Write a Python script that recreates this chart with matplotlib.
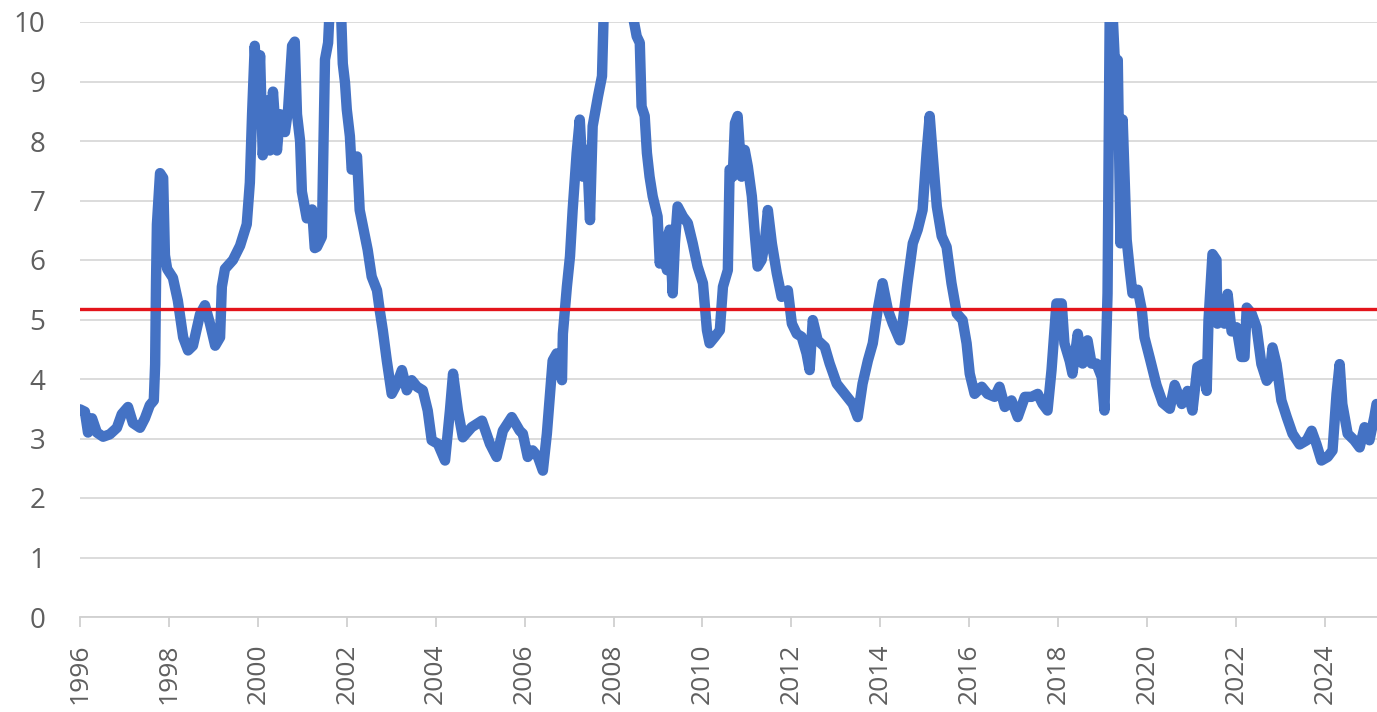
import matplotlib
matplotlib.use("Agg")
import matplotlib.pyplot as plt

plt.rcParams['font.family'] = ['Open Sans', 'DejaVu Sans']

# series, read as (decimal year, value)
years = [
    1996.00, 1996.11, 1996.18, 1996.27, 1996.38, 1996.52, 1996.67, 1996.83, 1996.94, 1997.08,
    1997.19, 1997.35, 1997.46, 1997.57, 1997.66, 1997.69, 1997.71, 1997.73, 1997.80, 1997.87,
    1997.91, 1997.96, 1998.09, 1998.20, 1998.32, 1998.43, 1998.54, 1998.70, 1998.81, 1998.92,
    1999.04, 1999.15, 1999.19, 1999.26, 1999.44, 1999.60, 1999.75, 1999.82, 1999.87, 1999.93,
    2000.00, 2000.05, 2000.11, 2000.20, 2000.27, 2000.34, 2000.43, 2000.50, 2000.61, 2000.68,
    2000.77, 2000.83, 2000.88, 2000.95, 2000.99, 2001.10, 2001.22, 2001.28, 2001.33, 2001.44,
    2001.46, 2001.51, 2001.58, 2001.62, 2001.76, 2001.87, 2001.91, 2001.96, 2002.00, 2002.07,
    2002.11, 2002.23, 2002.29, 2002.41, 2002.47, 2002.56, 2002.68, 2002.74, 2002.81, 2002.90,
    2003.01, 2003.13, 2003.24, 2003.35, 2003.46, 2003.58, 2003.71, 2003.82, 2003.91, 2004.05,
    2004.21, 2004.32, 2004.39, 2004.50, 2004.61, 2004.81, 2005.04, 2005.22, 2005.37, 2005.51,
    2005.71, 2005.89, 2005.96, 2006.07, 2006.18, 2006.30, 2006.41, 2006.50, 2006.57, 2006.63,
    2006.72, 2006.84, 2006.86, 2006.95, 2007.02, 2007.08, 2007.17, 2007.24, 2007.31, 2007.40,
    2007.47, 2007.53, 2007.65, 2007.74, 2007.78, 2007.92, 2008.10, 2008.28, 2008.41, 2008.52,
    2008.59, 2008.63, 2008.70, 2008.75, 2008.81, 2008.88, 2008.99, 2009.04, 2009.11, 2009.20,
    2009.26, 2009.33, 2009.38, 2009.44, 2009.56, 2009.67, 2009.78, 2009.89, 2010.01, 2010.10,
    2010.16, 2010.28, 2010.39, 2010.46, 2010.57, 2010.61, 2010.68, 2010.73, 2010.79, 2010.88,
    2010.95, 2011.02, 2011.11, 2011.18, 2011.24, 2011.33, 2011.40, 2011.47, 2011.56, 2011.67,
    2011.78, 2011.92, 2012.01, 2012.12, 2012.23, 2012.34, 2012.41, 2012.48, 2012.59, 2012.75,
    2012.86, 2013.02, 2013.20, 2013.38, 2013.49, 2013.60, 2013.72, 2013.83, 2013.94, 2014.05,
    2014.17, 2014.28, 2014.44, 2014.50, 2014.61, 2014.73, 2014.84, 2014.95, 2015.04, 2015.11,
    2015.18, 2015.27, 2015.38, 2015.49, 2015.60, 2015.72, 2015.85, 2015.94, 2016.01, 2016.12,
    2016.28, 2016.41, 2016.57, 2016.68, 2016.80, 2016.95, 2017.09, 2017.25, 2017.40, 2017.54,
    2017.65, 2017.76, 2017.85, 2017.96, 2018.08, 2018.14, 2018.26, 2018.32, 2018.44, 2018.55,
    2018.66, 2018.75, 2018.86, 2018.98, 2019.04, 2019.11, 2019.16, 2019.22, 2019.27, 2019.34,
    2019.40, 2019.45, 2019.54, 2019.61, 2019.67, 2019.79, 2019.88, 2019.94, 2020.06, 2020.21,
    2020.35, 2020.51, 2020.62, 2020.78, 2020.91, 2021.02, 2021.13, 2021.25, 2021.34, 2021.38,
    2021.47, 2021.56, 2021.58, 2021.65, 2021.74, 2021.81, 2021.90, 2022.01, 2022.12, 2022.19,
    2022.24, 2022.35, 2022.46, 2022.57, 2022.69, 2022.75, 2022.82, 2022.91, 2023.02, 2023.14,
    2023.27, 2023.43, 2023.59, 2023.70, 2023.81, 2023.92, 2024.06, 2024.17, 2024.26, 2024.33,
    2024.39, 2024.51, 2024.66, 2024.78, 2024.89, 2025.00, 2025.11, 2025.16,
]
values = [
    3.49, 3.45, 3.10, 3.34, 3.10, 3.03, 3.07, 3.18, 3.41, 3.53,
    3.26, 3.18, 3.34, 3.56, 3.64, 4.25, 5.63, 6.60, 7.46, 7.38,
    6.08, 5.85, 5.70, 5.32, 4.70, 4.48, 4.56, 5.09, 5.24, 4.94,
    4.56, 4.70, 5.55, 5.85, 6.00, 6.24, 6.60, 7.30, 8.45, 9.60,
    8.60, 9.44, 7.76, 8.68, 7.84, 8.83, 7.84, 8.45, 8.15, 8.53,
    9.60, 9.67, 8.45, 8.00, 7.15, 6.70, 6.85, 6.20, 6.22, 6.39,
    7.29, 9.37, 9.65, 10.30, 10.40, 10.20, 9.30, 8.98, 8.53, 8.08,
    7.52, 7.74, 6.84, 6.39, 6.17, 5.72, 5.49, 5.16, 4.82, 4.31,
    3.75, 3.92, 4.15, 3.81, 3.98, 3.87, 3.81, 3.47, 2.97, 2.91,
    2.63, 3.47, 4.09, 3.47, 3.02, 3.19, 3.30, 2.91, 2.69, 3.13,
    3.36, 3.13, 3.08, 2.69, 2.80, 2.69, 2.46, 3.08, 3.75, 4.31,
    4.43, 3.98, 4.76, 5.55, 6.06, 6.84, 7.80, 8.36, 7.40, 7.85,
    6.67, 8.25, 8.75, 9.09, 10.20, 11.00, 11.80, 11.00, 10.20, 9.76,
    9.65, 8.58, 8.42, 7.80, 7.40, 7.07, 6.73, 5.94, 6.39, 5.83,
    6.51, 5.44, 6.28, 6.90, 6.73, 6.62, 6.28, 5.89, 5.61, 4.82,
    4.60, 4.71, 4.82, 5.55, 5.83, 7.52, 7.40, 8.30, 8.42, 7.40,
    7.85, 7.57, 7.07, 6.40, 5.89, 6.00, 6.28, 6.84, 6.28, 5.78,
    5.38, 5.49, 4.93, 4.76, 4.71, 4.43, 4.15, 4.99, 4.65, 4.54,
    4.26, 3.92, 3.75, 3.58, 3.36, 3.92, 4.31, 4.60, 5.16, 5.61,
    5.16, 4.93, 4.65, 4.93, 5.61, 6.28, 6.51, 6.84, 7.80, 8.42,
    7.74, 6.90, 6.40, 6.22, 5.61, 5.10, 4.99, 4.60, 4.09, 3.75,
    3.87, 3.75, 3.70, 3.87, 3.53, 3.64, 3.36, 3.70, 3.70, 3.75,
    3.58, 3.47, 4.15, 5.27, 5.27, 4.60, 4.30, 4.09, 4.76, 4.26,
    4.65, 4.26, 4.26, 4.03, 3.47, 5.44, 10.30, 10.20, 9.40, 9.36,
    6.28, 8.36, 6.34, 5.83, 5.44, 5.50, 5.16, 4.70, 4.35, 3.90,
    3.60, 3.50, 3.90, 3.58, 3.80, 3.47, 4.20, 4.25, 3.80, 4.98,
    6.10, 6.00, 4.93, 5.15, 4.93, 5.43, 4.80, 4.87, 4.37, 4.37,
    5.20, 5.10, 4.87, 4.25, 3.97, 4.03, 4.53, 4.25, 3.64, 3.36,
    3.08, 2.90, 2.97, 3.13, 2.90, 2.63, 2.69, 2.80, 3.75, 4.25,
    3.58, 3.08, 2.97, 2.85, 3.19, 2.97, 3.36, 3.58,
]
average = 5.18
year_ticks = list(range(1996, 2025, 2))
value_ticks = list(range(0, 11))

fig = plt.figure(figsize=(13.77, 7.12), dpi=100)
ax = fig.add_axes([80 / 1377, 1 - 617 / 712, 1 - 80 / 1377, (617 - 22) / 712])

ax.plot(years, values, color='#4472C4', lw=7.5, solid_joinstyle='round',
        solid_capstyle='round', zorder=3)
ax.axhline(average, color='#E3141B', lw=2.4, zorder=4)

ax.set_xlim(1996, 2025.17)
ax.set_ylim(0, 10)
ax.set_xticks(year_ticks)
ax.set_xticklabels([str(y) for y in year_ticks])
ax.set_yticks(value_ticks)

ax.grid(axis='y', color='#D9D9D9', lw=1.3, zorder=0)
ax.set_axisbelow(True)
for side in ['top', 'right', 'left']:
    ax.spines[side].set_visible(False)
ax.spines['bottom'].set_color('#D0D0D0')
ax.spines['bottom'].set_linewidth(1.3)

ax.tick_params(axis='y', length=0, pad=25, labelsize=20, labelcolor='#5F5F5F')
ax.tick_params(axis='x', length=7, width=1.3, color='#D0D0D0', pad=12,
               labelrotation=90, labelsize=19, labelcolor='#5F5F5F')

fig.savefig('out.png', dpi=100)
